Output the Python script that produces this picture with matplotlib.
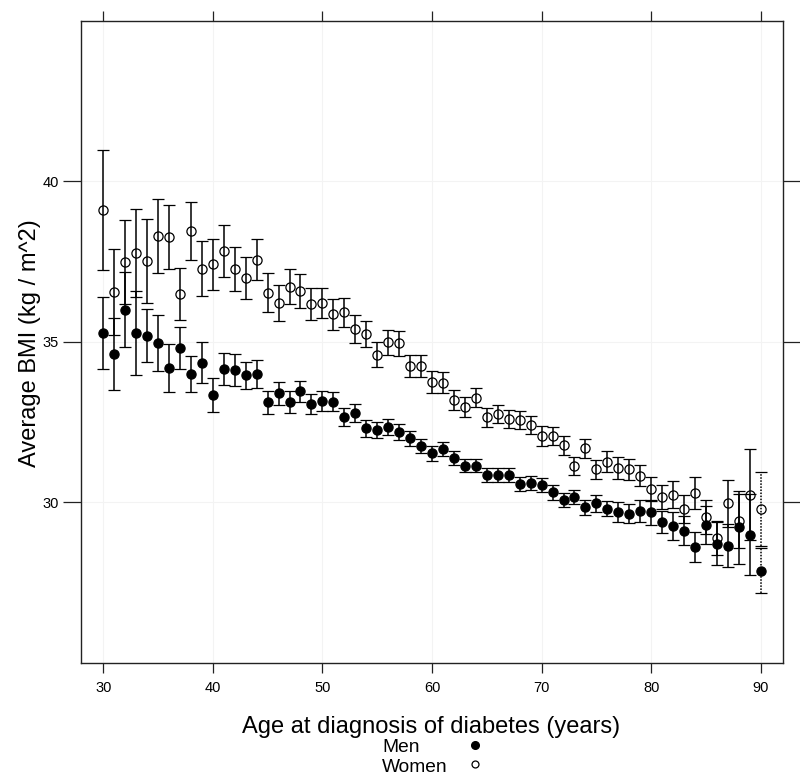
import matplotlib.pyplot as plt
from matplotlib.lines import Line2D

plt.rcParams['font.family'] = ['Liberation Sans', 'DejaVu Sans']

# age at diagnosis (years)
age = list(range(30, 91))

# average BMI and error (half-width of bar), men
men_bmi = [35.27, 34.62, 35.99, 35.27, 35.19, 34.96, 34.18, 34.81, 33.99, 34.35,
           33.34, 34.16, 34.12, 33.96, 33.99, 33.11, 33.39, 33.11, 33.45, 33.07,
           33.16, 33.13, 32.64, 32.78, 32.30, 32.25, 32.34, 32.19, 31.99, 31.75,
           31.52, 31.65, 31.39, 31.14, 31.14, 30.85, 30.85, 30.85, 30.57, 30.60,
           30.53, 30.31, 30.07, 30.16, 29.84, 29.97, 29.80, 29.69, 29.64, 29.73,
           29.69, 29.38, 29.26, 29.11, 28.61, 29.29, 28.71, 28.65, 29.22, 28.99,
           27.87]
men_err = [1.12, 1.12, 1.17, 1.32, 0.82, 0.87, 0.74, 0.65, 0.57, 0.63,
           0.52, 0.50, 0.51, 0.42, 0.43, 0.36, 0.36, 0.34, 0.34, 0.31,
           0.31, 0.30, 0.28, 0.28, 0.27, 0.25, 0.25, 0.25, 0.24, 0.23,
           0.23, 0.22, 0.22, 0.21, 0.21, 0.21, 0.21, 0.21, 0.21, 0.21,
           0.22, 0.24, 0.22, 0.22, 0.23, 0.26, 0.24, 0.31, 0.30, 0.35,
           0.39, 0.34, 0.43, 0.45, 0.46, 0.58, 0.68, 0.67, 1.13, 1.26,
           0.71]

# women
women_bmi = [39.10, 36.56, 37.48, 37.75, 37.52, 38.29, 38.25, 36.48, 38.44, 37.28,
             37.41, 37.83, 37.26, 36.98, 37.56, 36.52, 36.21, 36.71, 36.59, 36.17,
             36.21, 35.86, 35.91, 35.40, 35.25, 34.60, 34.98, 34.95, 34.24, 34.25,
             33.74, 33.72, 33.17, 32.97, 33.26, 32.64, 32.75, 32.59, 32.56, 32.40,
             32.06, 32.07, 31.77, 31.13, 31.68, 31.02, 31.26, 31.06, 31.03, 30.83,
             30.42, 30.16, 30.24, 29.78, 30.28, 29.55, 28.88, 29.97, 29.41, 30.24,
             29.78]
women_err = [1.87, 1.34, 1.31, 1.37, 1.30, 1.16, 1.00, 0.81, 0.91, 0.86,
             0.79, 0.80, 0.69, 0.65, 0.64, 0.61, 0.56, 0.54, 0.53, 0.50,
             0.46, 0.48, 0.45, 0.44, 0.40, 0.40, 0.39, 0.38, 0.35, 0.35,
             0.34, 0.33, 0.31, 0.30, 0.30, 0.29, 0.28, 0.28, 0.29, 0.28,
             0.30, 0.28, 0.29, 0.28, 0.30, 0.30, 0.32, 0.34, 0.33, 0.34,
             0.38, 0.38, 0.43, 0.43, 0.50, 0.53, 0.54, 0.73, 0.85, 1.42,
             1.15]

fig = plt.figure(figsize=(8, 7.84), dpi=100)
ax = fig.add_axes([0.1016, 0.1547, 0.8768, 0.8189])

for bmi, err, mfc in [(women_bmi, women_err, 'none'), (men_bmi, men_err, 'black')]:
    eb = ax.errorbar(age, bmi, yerr=err, fmt='o', color='black', ms=6.6,
                     mfc=mfc, mec='black', mew=0.9, elinewidth=1.1,
                     capsize=4.2, capthick=1.1)
    # last bar (age 90) is drawn dotted
    eb[2][0].set_linestyle(['-'] * (len(age) - 1) + [(0, (1, 1))])

ax.set_xlim(28, 92)
ax.set_ylim(25.0, 45.0)
ax.set_xticks([30, 40, 50, 60, 70, 80, 90])
ax.set_yticks([30, 35, 40])
ax.grid(True, color='#f3f3f3', lw=0.8)
ax.set_axisbelow(True)

ax.tick_params(axis='x', which='both', direction='out', top=True, bottom=True,
               labeltop=False, length=7, width=0.9, labelsize=10.5, pad=6,
               color='#222222')
ax.tick_params(axis='y', which='both', direction='out', left=True, right=True,
               labelright=False, length=8, width=0.9, labelsize=10.5, pad=3,
               color='#222222')
ax.tick_params(axis='y', which='major', left=True, length=13)
for s in ax.spines.values():
    s.set_color('#222222')
    s.set_linewidth(1.0)

fig.text(0.038, 1 - 343 / 784, 'Average BMI (kg / m^2)', rotation=90,
         ha='center', va='center', fontsize=17)
fig.text(431 / 800, 1 - 727 / 784, 'Age at diagnosis of diabetes (years)',
         ha='center', va='center', fontsize=17)

# key below the x label
fig.text(382 / 800, 1 - 747 / 784, 'Men', ha='left', va='center', fontsize=13.8)
fig.text(382 / 800, 1 - 767 / 784, 'Women', ha='left', va='center', fontsize=13.8)
fig.add_artist(Line2D([475 / 800], [1 - 745 / 784], marker='o', ms=5.5,
                      color='black', mfc='black', transform=fig.transFigure))
fig.add_artist(Line2D([475 / 800], [1 - 764 / 784], marker='o', ms=5,
                      color='black', mfc='none', mew=0.9,
                      transform=fig.transFigure))

fig.savefig('out.png', dpi=100)
